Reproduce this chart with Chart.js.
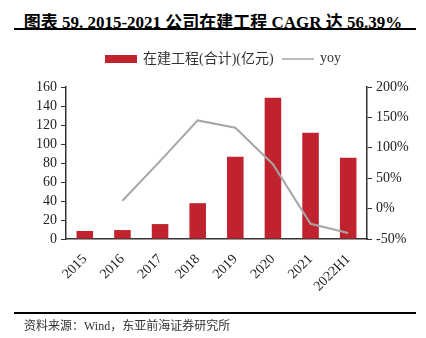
<!DOCTYPE html>
<html>
<head>
<meta charset="utf-8">
<script src="https://cdn.jsdelivr.net/npm/chart.js@4"></script>
<style>
  html, body { margin: 0; padding: 0; background: #fff; }
  body { width: 426px; height: 338px; position: relative; overflow: hidden; }
  #titolo {
    position: absolute; left: 0; width: 426px; top: 8px; text-align: center;
    font: bold 17px "Liberation Serif", "Noto Sans CJK SC", serif; color: #000;
  }
  .riga { position: absolute; left: 14px; width: 402px; height: 2px; background: #000; }
  #fonte {
    position: absolute; left: 24px; top: 316px;
    font: 12px "Liberation Serif", "Noto Sans CJK SC", serif; color: #333;
  }
  #grafico { position: absolute; left: 0; top: 0; }
</style>
</head>
<body>
<div id="titolo">图表 59. 2015-2021 公司在建工程 CAGR 达 56.39%</div>
<div class="riga" style="top:28px"></div>
<canvas id="grafico" width="426" height="338"></canvas>
<div class="riga" style="top:312px"></div>
<div id="fonte">资料来源：Wind，东亚前海证券研究所</div>
<script>
// dati del grafico
const anni = ['2015', '2016', '2017', '2018', '2019', '2020', '2021', '2022H1'];
const inCostruzione = [8.4, 9.4, 15.7, 37.7, 86.6, 148.8, 111.8, 85.5];
const crescita = [null, 13, 78, 145, 133, 73, -25, -40];
const etichettaBarre = '在建工程(合计)(亿元)';
const etichettaLinea = 'yoy';

const rosso = '#C0232E';
const grigio = '#A6A6A6';
const fontSerif = '"Liberation Serif", "Noto Sans CJK SC", serif';

// legenda disegnata a mano: rettangolo rosso + linea grigia
const pluginLegenda = {
    id: 'legendaManuale',
    afterDraw: (chart) => {
        const ctx = chart.ctx;
        ctx.save();
        ctx.fillStyle = rosso;
        ctx.fillRect(105, 55, 32, 8);
        ctx.font = '14px ' + fontSerif;
        ctx.fillStyle = '#333';
        ctx.textBaseline = 'middle';
        ctx.fillText(etichettaBarre, 143, 59);
        ctx.strokeStyle = grigio;
        ctx.lineWidth = 1.5;
        ctx.beginPath();
        ctx.moveTo(282, 59);
        ctx.lineTo(314, 59);
        ctx.stroke();
        ctx.fillText(etichettaLinea, 320, 58);
        ctx.restore();
    }
};

new Chart(document.getElementById('grafico'), {
    type: 'bar',
    data: {
        labels: anni,
        datasets: [
            {
                type: 'line',
                label: etichettaLinea,
                data: crescita,
                yAxisID: 'y1',
                borderColor: grigio,
                backgroundColor: grigio,
                borderWidth: 2,
                pointRadius: 0,
                tension: 0,
                order: 0
            },
            {
                label: etichettaBarre,
                data: inCostruzione,
                yAxisID: 'y',
                backgroundColor: rosso,
                barPercentage: 0.44,
                categoryPercentage: 1,
                order: 1
            }
        ]
    },
    options: {
        responsive: false,
        animation: false,
        layout: { padding: { top: 87, left: 0, right: 0, bottom: 0 } },
        plugins: {
            legend: { display: false },
            tooltip: { enabled: false }
        },
        scales: {
            x: {
                offset: true,
                grid: { display: false, drawTicks: false },
                border: { display: true, color: '#333', width: 1.5 },
                ticks: {
                    color: '#222', font: { family: fontSerif, size: 14 },
                    maxRotation: 45, minRotation: 45, padding: 12, autoSkip: false
                },
                afterFit: (scale) => { scale.height = 99; }
            },
            y: {
                position: 'left',
                min: 0, max: 160,
                ticks: { stepSize: 20, autoSkip: false, color: '#222', font: { family: fontSerif, size: 14 }, padding: 4 },
                grid: { drawOnChartArea: false, drawTicks: true, tickLength: 5, color: '#333' },
                border: { display: true, color: '#333', width: 1.5 },
                afterFit: (scale) => { scale.width = 66; }
            },
            y1: {
                position: 'right',
                min: -50, max: 200,
                ticks: {
                    stepSize: 50, autoSkip: false, color: '#222', font: { family: fontSerif, size: 14 }, padding: 4,
                    callback: (v) => v + '%'
                },
                grid: { drawOnChartArea: false, drawTicks: true, tickLength: 5, color: '#333' },
                border: { display: true, color: '#333', width: 1.5 },
                afterFit: (scale) => { scale.width = 59; }
            }
        }
    },
    plugins: [pluginLegenda]
});
</script>
</body>
</html>
